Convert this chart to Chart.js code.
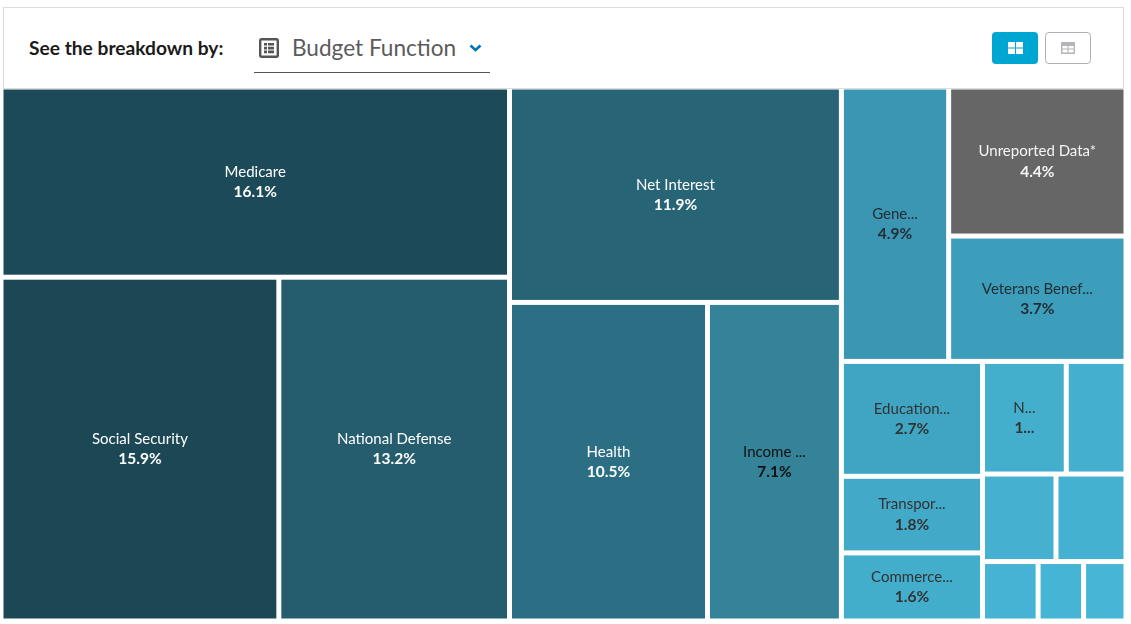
<!DOCTYPE html>
<html>
<head>
<meta charset="utf-8">
<title>Budget Function</title>
<script src="https://cdn.jsdelivr.net/npm/chart.js@4"></script>
<style>
    html, body { margin: 0; padding: 0; background: #fff; overflow: hidden; }
    body { width: 1131px; height: 624px; position: relative; font-family: Lato, sans-serif; }
    .top { position: absolute; left: 3px; top: 7px; width: 1119px; height: 80px; border: 1px solid #ddd; }
    .title { position: absolute; left: 29px; top: 36px; font-size: 19.2px; line-height: 24px; font-weight: 700; color: #1b1b1b; }
    .pick { position: absolute; left: 292px; top: 32px; font-size: 22.6px; line-height: 32px; color: #5b5b5b; }
    .line { position: absolute; left: 254px; top: 72px; width: 236px; height: 1px; background: #555; }
    .ico { position: absolute; }
    .btn { position: absolute; top: 32px; width: 46px; height: 32px; border-radius: 4px; box-sizing: border-box; }
    .on { left: 992px; background: #00a6d2; }
    .off { left: 1045px; border: 1px solid #aeb0b5; background: #fff; }
    .box { position: absolute; left: 1px; top: 87px; width: 1125px; height: 534px; }
</style>
</head>
<body>
<div class="top"></div>
<div class="title">See the breakdown by:</div>
<svg class="ico" style="left:259px;top:38px" width="20" height="20" viewBox="0 0 20 20">
    <rect x="1.2" y="1.2" width="17.6" height="17.6" rx="1.5" fill="none" stroke="#555" stroke-width="2.4"/>
    <path d="M5 5h3v2.6H5zM9 5h6v2.6H9zM5 8.8h3v2.6H5zM9 8.8h6v2.6H9zM5 12.6h3v2.6H5zM9 12.6h6v2.6H9z" fill="#555"/>
</svg>
<div class="pick">Budget Function</div>
<svg class="ico" style="left:469px;top:44px" width="13" height="8" viewBox="0 0 13 8">
    <path d="M1.5 1.5L6.5 6L11.5 1.5" fill="none" stroke="#0071bc" stroke-width="2.6"/>
</svg>
<div class="line"></div>
<div class="btn on"></div>
<svg class="ico" style="left:1008px;top:42px" width="15" height="12" viewBox="0 0 15 12">
    <path d="M0 0h7v5.5H0zM8 0h7v5.5H8zM0 6.5h7V12H0zM8 6.5h7V12H8z" fill="#fff"/>
</svg>
<div class="btn off"></div>
<svg class="ico" style="left:1061px;top:42px" width="14" height="12" viewBox="0 0 14 12">
    <path d="M0 0h14v12H0z" fill="#b4b5b9"/>
    <path d="M1.5 4h5v2.6h-5zM7.6 4h5v2.6h-5zM1.5 7.6h5v2.9h-5zM7.6 7.6h5v2.9h-5z" fill="#fff"/>
</svg>
<div class="box"><canvas id="treemap"></canvas></div>

<script>
const LABELS = ["Medicare", "Social Security", "National Defense", "Net Interest", "Health", "Income ...",
    "Gene...", "Unreported Data*", "Veterans Benef...", "Education...", "Transpor...", "Commerce...",
    "N...", "", "", "", "", "", ""];
const VALUES = [16.1, 15.9, 13.2, 11.9, 10.5, 7.1, 4.9, 4.4, 3.7, 2.7, 1.8, 1.6,
    1.57, 1.12, 1.07, 1.02, 0.55, 0.45, 0.42];
const PERCENT_LABELS = ["16.1%", "15.9%", "13.2%", "11.9%", "10.5%", "7.1%", "4.9%", "4.4%", "3.7%",
    "2.7%", "1.8%", "1.6%", "1...", "", "", "", "", "", ""];
const COLORS = ["#1c4a58", "#1c4856", "#255d6e", "#276476", "#2c6f84", "#348399", "#3a96b2", "#666666", "#3c9eba",
    "#3fa5c3", "#42a9c9", "#43adcc", "#44aecd", "#44afcf", "#45b0d0", "#45b1d1", "#46b3d4", "#46b4d5", "#47b5d6"];
const TEXT_COLORS = ["#fff", "#fff", "#fff", "#fff", "#fff", "#111", "#222e35", "#f4f4f4", "#222e35",
    "#333", "#333", "#333", "#333", "#333", "#333", "#333", "#333", "#333", "#333"];
// grouping of the cells, split along the longer side at each level
const TREE = [
    [0, [1, 2]],
    [3, [4, 5]],
    [[6, [7, 8]], [[9, 10, 11], [[12, 13], [14, 15], [16, 17, 18]]]]
];

const WIDTH = 1125;
const HEIGHT = 534;
const GAP = 2.5;

function sumOf(node) {
    return Array.isArray(node) ? node.reduce((acc, item) => acc + sumOf(item), 0) : VALUES[node];
}

function layout(node, x0, x1, y0, y1, out) {
    if (!Array.isArray(node)) {
        out[node] = { x: (x0 + x1) / 2, y: (y0 + y1) / 2, x0, x1, y0, y1, index: node };
        return out;
    }
    const wide = (x1 - x0) * WIDTH > (y1 - y0) * HEIGHT;
    const total = sumOf(node);
    let pos = wide ? x0 : y0;
    const size = wide ? x1 - x0 : y1 - y0;
    node.forEach((item) => {
        const next = pos + size * sumOf(item) / total;
        if (wide) layout(item, pos, next, y0, y1, out);
        else layout(item, x0, x1, pos, next, out);
        pos = next;
    });
    return out;
}

const treemapCells = {
    id: "treemapCells",
    afterDatasetsDraw(chart) {
        const { ctx, scales: { x, y } } = chart;
        ctx.save();
        chart.data.datasets[0].data.forEach((cell) => {
            const left = x.getPixelForValue(cell.x0) + GAP;
            const right = x.getPixelForValue(cell.x1) - GAP;
            const top = y.getPixelForValue(cell.y0) + GAP;
            const bottom = y.getPixelForValue(cell.y1) - GAP;
            ctx.fillStyle = COLORS[cell.index];
            ctx.fillRect(left, top, right - left, bottom - top);
            const cx = (left + right) / 2;
            const cy = (top + bottom) / 2;
            ctx.fillStyle = TEXT_COLORS[cell.index];
            ctx.textAlign = "center";
            ctx.textBaseline = "middle";
            ctx.font = "15px Lato, sans-serif";
            ctx.fillText(LABELS[cell.index], cx, cy - 10);
            ctx.font = "bold 15.5px Lato, sans-serif";
            ctx.fillText(PERCENT_LABELS[cell.index], cx, cy + 10);
        });
        ctx.restore();
    }
};

const cells = layout(TREE, 0, 1, 0, 1, []);

new Chart(document.getElementById("treemap"), {
    type: "scatter",
    data: {
        labels: LABELS,
        datasets: [{ data: cells, pointRadius: 0, pointHoverRadius: 0 }]
    },
    options: {
        responsive: true,
        maintainAspectRatio: false,
        animation: false,
        layout: { padding: 0 },
        plugins: { legend: { display: false }, tooltip: { enabled: false } },
        scales: {
            x: { display: false, min: 0, max: 1 },
            y: { display: false, min: 0, max: 1, reverse: true }
        }
    },
    plugins: [treemapCells]
});
</script>
</body>
</html>
